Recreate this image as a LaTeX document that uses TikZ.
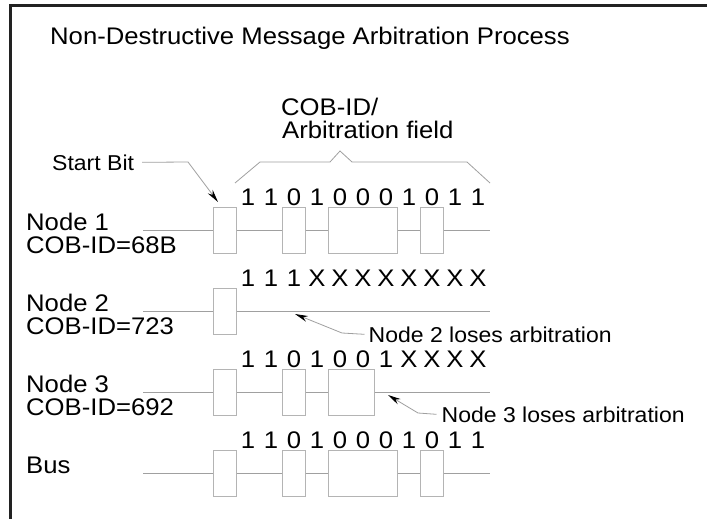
\documentclass[tikz,border=0pt]{standalone}
\usepackage{fontspec}
\setmainfont{Liberation Sans}[FakeStretch=1.07]
\usetikzlibrary{arrows.meta}
\definecolor{wirec}{HTML}{A0A0A0}
\definecolor{boxc}{HTML}{B4B4B4}
\definecolor{framec}{HTML}{222222}
\begin{document}
\begin{tikzpicture}[x=1pt,y=-1pt,
  bitbox/.style={draw=boxc,line width=0.8pt,fill=white,minimum height=46pt,inner sep=0pt},
  wire/.style={draw=wirec,line width=0.8pt},
  lbl/.style={font=\fontsize{24}{24}\selectfont,inner sep=0pt,anchor=base west},
  bitlbl/.style={font=\fontsize{24}{24}\selectfont,inner sep=0pt,anchor=base},
  note/.style={font=\fontsize{21.5}{21.5}\selectfont,inner sep=0pt,anchor=base west},
  leader/.style={draw=wirec,line width=0.8pt,-{Stealth[length=13pt,width=6pt,black]}},
]
\useasboundingbox (0,0) rectangle (707,519);
\fill[white] (0,0) rectangle (707,519);
% frame
\draw[framec,line width=2.7pt] (10.5,525) -- (10.5,5.5) -- (712,5.5);
% title
\node[lbl] (title) at (50,45) {Non-Destructive Message Arbitration Process};
% arbitration field label and brace
\node[lbl] (cob) at (281,115) {COB-ID/};
\node[lbl] (arb) at (282,138) {Arbitration field};
\draw[wire] (235,183) -- (260,162) -- (330,162) -- (340,151) -- (352,162) -- (467,162) -- (490,183);
% start bit
\node[note] (sb) at (52,170) {Start Bit};
\coordinate (sbk) at (188,162);
\coordinate (sbt) at (218,202);
\draw[leader] (sb.east) ++(8pt,0) -- (sbk) -- (sbt);

% ---------- Node 1 ----------
\node[lbl] (n1l) at (26,230) {Node 1};
\node[lbl] (n1c) at (26,253) {COB-ID=68B};
\foreach \b [count=\i from 0] in {1,1,0,1,0,0,0,1,0,1,1}
  \node[bitlbl] (n1b\i) at ({248+23*\i},205) {\b};
\coordinate (n1s) at (143,230);
\coordinate (n1e) at (490,230);
\node[bitbox,minimum width=23pt] (n1x1) at (225,230) {};
\node[bitbox,minimum width=23pt] (n1x2) at (294,230) {};
\node[bitbox,minimum width=69pt] (n1x3) at (363,230) {};
\node[bitbox,minimum width=23pt] (n1x4) at (432,230) {};
\draw[wire] (n1s) -- (n1x1.west) (n1x1.east) -- (n1x2.west) (n1x2.east) -- (n1x3.west)
  (n1x3.east) -- (n1x4.west) (n1x4.east) -- (n1e);

% ---------- Node 2 ----------
\node[lbl] (n2l) at (26,311) {Node 2};
\node[lbl] (n2c) at (26,334) {COB-ID=723};
\foreach \b [count=\i from 0] in {1,1,1,X,X,X,X,X,X,X,X}
  \node[bitlbl] (n2b\i) at ({248+23*\i},286) {\b};
\coordinate (n2s) at (143,311);
\coordinate (n2e) at (490,311);
\node[bitbox,minimum width=23pt] (n2x1) at (225,311) {};
\draw[wire] (n2s) -- (n2x1.west) (n2x1.east) -- (n2e);
\node[note] (n2n) at (368.5,342) {Node 2 loses arbitration};
\coordinate (n2k) at (342,333);
\coordinate (n2t) at (295,314);
\draw[leader] (n2n.west) ++(-4pt,0) -- (n2k) -- (n2t);

% ---------- Node 3 ----------
\node[lbl] (n3l) at (26,392) {Node 3};
\node[lbl] (n3c) at (26,415) {COB-ID=692};
\foreach \b [count=\i from 0] in {1,1,0,1,0,0,1,X,X,X,X}
  \node[bitlbl] (n3b\i) at ({248+23*\i},367) {\b};
\coordinate (n3s) at (143,392);
\coordinate (n3e) at (490,392);
\node[bitbox,minimum width=23pt] (n3x1) at (225,392) {};
\node[bitbox,minimum width=23pt] (n3x2) at (294,392) {};
\node[bitbox,minimum width=46pt] (n3x3) at (351.5,392) {};
\draw[wire] (n3s) -- (n3x1.west) (n3x1.east) -- (n3x2.west) (n3x2.east) -- (n3x3.west)
  (n3x3.east) -- (n3e);
\node[note] (n3n) at (441.5,422) {Node 3 loses arbitration};
\coordinate (n3k) at (418,413);
\coordinate (n3t) at (388,395);
\draw[leader] (n3n.west) ++(-5pt,0) -- (n3k) -- (n3t);

% ---------- Bus ----------
\node[lbl] (busl) at (26,473) {Bus};
\foreach \b [count=\i from 0] in {1,1,0,1,0,0,0,1,0,1,1}
  \node[bitlbl] (bb\i) at ({248+23*\i},448) {\b};
\coordinate (bs) at (143,473);
\coordinate (be) at (490,473);
\node[bitbox,minimum width=23pt] (bx1) at (225,473) {};
\node[bitbox,minimum width=23pt] (bx2) at (294,473) {};
\node[bitbox,minimum width=69pt] (bx3) at (363,473) {};
\node[bitbox,minimum width=23pt] (bx4) at (432,473) {};
\draw[wire] (bs) -- (bx1.west) (bx1.east) -- (bx2.west) (bx2.east) -- (bx3.west)
  (bx3.east) -- (bx4.west) (bx4.east) -- (be);
\end{tikzpicture}
\end{document}
